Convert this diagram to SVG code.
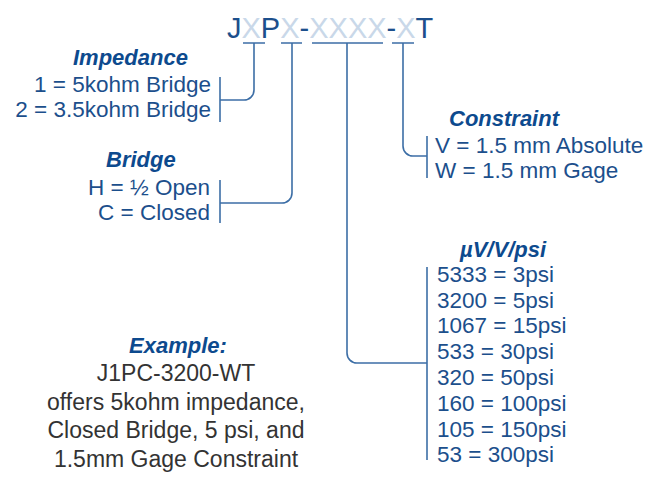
<svg xmlns="http://www.w3.org/2000/svg" width="654" height="487" viewBox="0 0 654 487">
<style>
.t{font-family:"Liberation Sans",Arial,sans-serif;font-size:22.5px;fill:#1c4f8c}
.h{font-family:"Liberation Sans",Arial,sans-serif;font-size:22px;font-weight:bold;font-style:italic;fill:#0d4a8e}
.e{font-family:"Liberation Sans",Arial,sans-serif;font-size:23px;fill:#333333}
.title{font-family:"Liberation Sans",Arial,sans-serif;font-size:29px;fill:#1c4f8c}
.lt{fill:#c9d8e9}
.ln{fill:none;stroke:#3c6ea6;stroke-width:1.6}
</style>
<rect width="654" height="487" fill="#ffffff"/>
<g id="title">
<text class="title" x="227" y="38">J<tspan class="lt">X</tspan>P<tspan class="lt">X</tspan>-<tspan class="lt">XXXX</tspan>-<tspan class="lt">X</tspan>T</text>
</g>
<g id="connectors">
<path class="ln" d="M243,43 H265 M281,43 H302 M312,43 H383 M392,43 H414"/>
<path class="ln" d="M254,43 V90 A10,10 0 0 1 244,100 H220"/>
<path class="ln" d="M220,77 V122"/>
<path class="ln" d="M292,43 V193 A10,10 0 0 1 282,203 H220"/>
<path class="ln" d="M220,180 V223"/>
<path class="ln" d="M403,43 V146 A10,10 0 0 0 413,156 H427"/>
<path class="ln" d="M427,136 V178"/>
<path class="ln" d="M347,43 V353 A10,10 0 0 0 357,363 H427"/>
<path class="ln" d="M427,267 V460"/>
</g>
<g id="impedance">
<text class="h" x="73" y="65" textLength="115">Impedance</text>
<text class="t" x="211" y="92" text-anchor="end">1 = 5kohm Bridge</text>
<text class="t" x="211" y="117" text-anchor="end">2 = 3.5kohm Bridge</text>
</g>
<g id="bridge">
<text class="h" x="106" y="167">Bridge</text>
<text class="t" x="210" y="195" text-anchor="end">H = ½ Open</text>
<text class="t" x="210" y="220" text-anchor="end">C = Closed</text>
</g>
<g id="constraint">
<text class="h" x="449" y="126">Constraint</text>
<text class="t" x="435" y="153">V = 1.5 mm Absolute</text>
<text class="t" x="435" y="178">W = 1.5 mm Gage</text>
</g>
<g id="psi">
<text class="h" x="460" y="257">µV/V/psi</text>
<text class="t" x="437" y="282">5333 = 3psi</text>
<text class="t" x="437" y="308">3200 = 5psi</text>
<text class="t" x="437" y="333">1067 = 15psi</text>
<text class="t" x="437" y="359">533 = 30psi</text>
<text class="t" x="437" y="385">320 = 50psi</text>
<text class="t" x="437" y="411">160 = 100psi</text>
<text class="t" x="437" y="437">105 = 150psi</text>
<text class="t" x="437" y="462">53 = 300psi</text>
</g>
<g id="example">
<text class="h" x="178" y="353" text-anchor="middle">Example:</text>
<text class="e" x="176" y="381" text-anchor="middle">J1PC-3200-WT</text>
<text class="e" x="176" y="410" text-anchor="middle">offers 5kohm impedance,</text>
<text class="e" x="176" y="438" text-anchor="middle">Closed Bridge, 5 psi, and</text>
<text class="e" x="176" y="467" text-anchor="middle">1.5mm Gage Constraint</text>
</g>
</svg>
